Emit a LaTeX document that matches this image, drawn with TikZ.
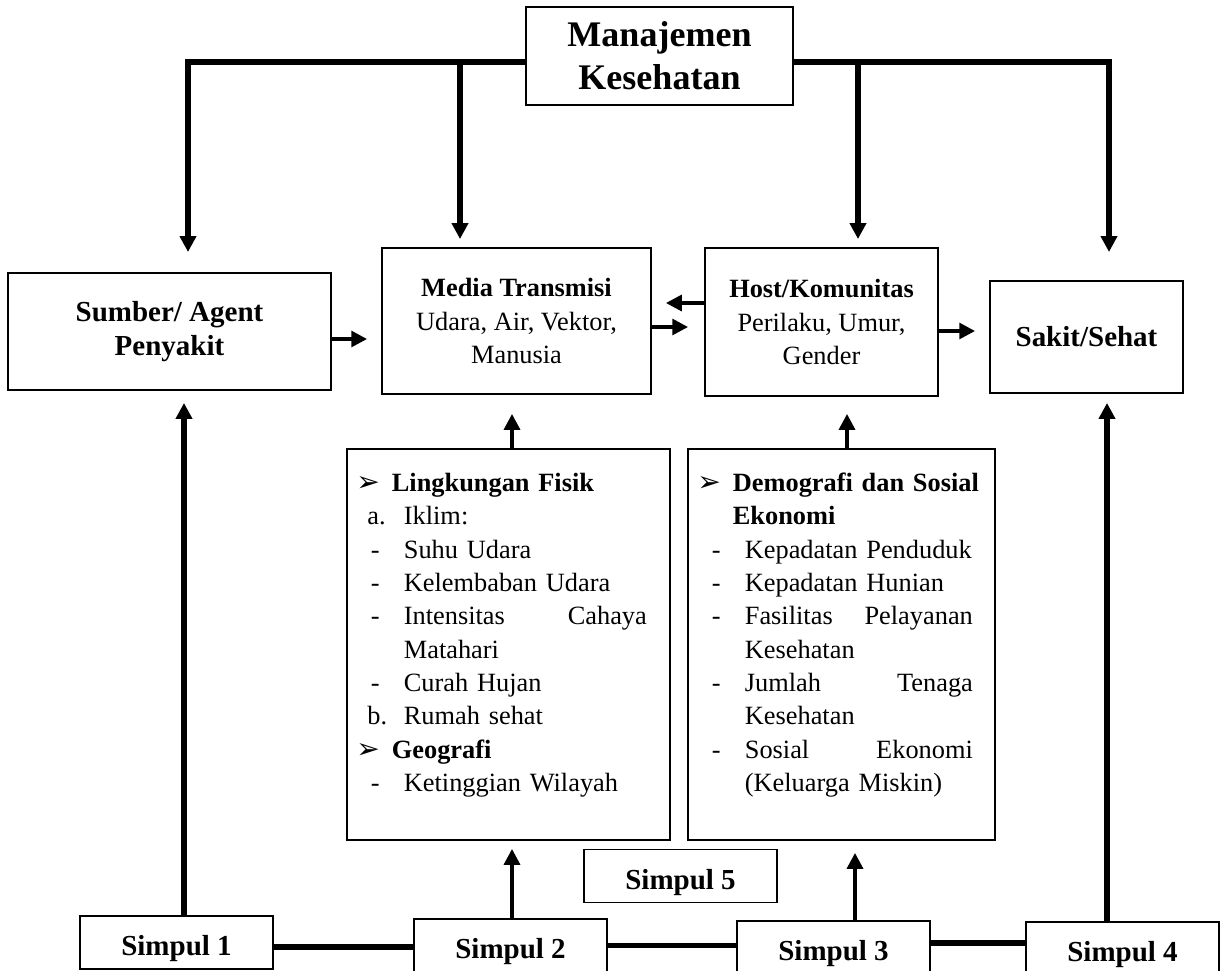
\documentclass[tikz,border=0pt]{standalone}
\usepackage{fontspec}
\setmainfont{Liberation Serif}
\newfontfamily\symfont{DejaVu Sans}
\usepackage{tikz}
\usetikzlibrary{arrows.meta}
\tikzset{>={Triangle[length=9pt,width=9pt]}}
\tikzset{
  box/.style={draw=black, line width=1.1pt, inner sep=0pt, align=center, font=\fontsize{15}{19}\selectfont},
  bigbox/.style={box, font=\fontsize{16.5}{19.3}\selectfont\bfseries},
  simpulbox/.style={bigbox, minimum width=3.86cm, minimum height=1.06cm, text height=0.66cm, text depth=0.13cm},
  flow/.style={->, line width=2pt},
  longflow/.style={->, line width=3pt},
  bar/.style={line width=3pt},
  listtext/.style={inner sep=0pt, anchor=north west, align=left, text width=6cm, font=\fontsize{15}{19}\selectfont}
}
\newcommand{\bul}[1]{\makebox[0.71cm][l]{\symfont\fontsize{16}{16}\selectfont ➢}\textbf{#1}}
\newcommand{\dsh}[1]{\hspace*{0.29cm}\makebox[0.66cm][l]{-}#1}
\newcommand{\lit}[2]{\hspace*{0.22cm}\makebox[0.73cm][l]{#1}#2}

\begin{document}
\begin{tikzpicture}[x=0.02cm, y=-0.02cm]
  \useasboundingbox (0,0) rectangle (1220,970);

  % Top box
  \node[box, minimum width=5.34cm, minimum height=1.96cm, font=\fontsize{20.5}{24.4}\selectfont\bfseries] (mk) at (659.5,56) {Manajemen\\Kesehatan};

  % Middle row
  \node[bigbox, minimum width=6.46cm, minimum height=2.34cm] (sumber) at (169.5,331.5) {Sumber/ Agent\\Penyakit};
  \node[box, minimum width=5.38cm, minimum height=2.92cm] (media) at (516.5,321) {\textbf{Media Transmisi}\\Udara, Air, Vektor,\\Manusia};
  \node[box, minimum width=4.66cm, minimum height=2.96cm] (host) at (821.5,322) {\textbf{Host/Komunitas}\\Perilaku, Umur,\\Gender};
  \node[bigbox, minimum width=3.86cm, minimum height=2.24cm] (sakit) at (1086.5,337) {Sakit/Sehat};

  % Environment boxes
  \node[box, minimum width=6.46cm, minimum height=7.82cm] (ling) at (508.5,644.5) {};
  \node[listtext] (lingtxt) at ([xshift=0.2cm, yshift=-0.39cm]ling.north west) {\strut\bul{Lingkungan Fisik}\\
    \lit{a.}{Iklim:}\\
    \dsh{Suhu Udara}\\
    \dsh{Kelembaban Udara}\\
    \dsh{\makebox[4.86cm]{Intensitas\hfill Cahaya}}\\
    \hspace*{0.95cm}Matahari\\
    \dsh{Curah Hujan}\\
    \lit{b.}{Rumah sehat}\\
    \bul{Geografi}\\
    \dsh{Ketinggian Wilayah}};
  \node[box, minimum width=6.14cm, minimum height=7.82cm] (demo) at (841.5,644.5) {};
  \node[listtext] (demotxt) at ([xshift=0.2cm, yshift=-0.39cm]demo.north west) {\strut\bul{Demografi dan Sosial}\\
    \hspace*{0.71cm}\textbf{Ekonomi}\\
    \dsh{Kepadatan Penduduk}\\
    \dsh{Kepadatan Hunian}\\
    \dsh{\makebox[4.56cm]{Fasilitas\hfill Pelayanan}}\\
    \hspace*{0.95cm}Kesehatan\\
    \dsh{\makebox[4.56cm]{Jumlah\hfill Tenaga}}\\
    \hspace*{0.95cm}Kesehatan\\
    \dsh{\makebox[4.56cm]{Sosial\hfill Ekonomi}}\\
    \hspace*{0.95cm}(Keluarga Miskin)};

  % Simpul boxes
  \node[simpulbox] (s5) at (680.5,876) {Simpul 5};
  \node[simpulbox] (s1) at (176.5,942.5) {Simpul 1};
  \node[simpulbox] (s2) at (510.5,945.5) {Simpul 2};
  \node[simpulbox] (s3) at (833.5,947.5) {Simpul 3};
  \node[simpulbox] (s4) at (1122.5,948.5) {Simpul 4};

  % Arrows from management
  \coordinate (b2) at (460,62);
  \coordinate (b3) at (858,62);
  \coordinate (t1) at (188,252);
  \coordinate (t4) at (1109,252);
  \draw[longflow] (mk.west |- b2) -| (t1);
  \draw[longflow] (mk.east |- b3) -| (t4);
  \draw[longflow, shorten >=0.16cm] (b2) -- (b2 |- media.north);
  \draw[longflow, shorten >=0.16cm] (b3) -- (b3 |- host.north);

  % Arrows along the middle row
  \draw[flow, shorten >=0.28cm] ([yshift=-0.15cm]sumber.east) -- ([yshift=-0.15cm]sumber.east -| media.west);
  \draw[flow, shorten >=0.32cm] ([yshift=-0.12cm]media.east) -- ([yshift=-0.12cm]media.east -| host.west);
  \draw[flow, shorten >=0.28cm] ([yshift=0.38cm]host.west) -- ([yshift=0.38cm]host.west -| media.east);
  \draw[flow, shorten >=0.28cm] ([yshift=-0.18cm]host.east) -- ([yshift=-0.18cm]host.east -| sakit.west);

  % Arrows from the environment boxes
  \draw[flow, shorten >=0.38cm] ([xshift=0.07cm]ling.north) -- ([xshift=0.07cm]ling.north |- media.south);
  \draw[flow, shorten >=0.34cm] ([xshift=0.11cm]demo.north) -- ([xshift=0.11cm]demo.north |- host.south);

  % Arrows from the simpul boxes
  \draw[longflow, shorten >=0.24cm] ([xshift=0.15cm]s1.north) -- ([xshift=0.15cm]s1.north |- sumber.south);
  \draw[longflow, shorten >=0.18cm] ([xshift=-0.31cm]s4.north) -- ([xshift=-0.31cm]s4.north |- sakit.south);
  \draw[flow, shorten >=0.16cm] ([xshift=0.03cm]s2.north) -- ([xshift=0.03cm]s2.north |- ling.south);
  \draw[flow, shorten >=0.24cm] ([xshift=0.43cm]s3.north) -- ([xshift=0.43cm]s3.north |- demo.south);

  % Links between simpul boxes
  \draw[bar] ([yshift=-0.09cm]s1.east) -- ([yshift=-0.09cm]s1.east -| s2.west);
  \draw[bar] (s2.east) -- (s2.east -| s3.west);
  \draw[bar] ([yshift=0.09cm]s3.east) -- ([yshift=0.09cm]s3.east -| s4.west);

\end{tikzpicture}
\end{document}
